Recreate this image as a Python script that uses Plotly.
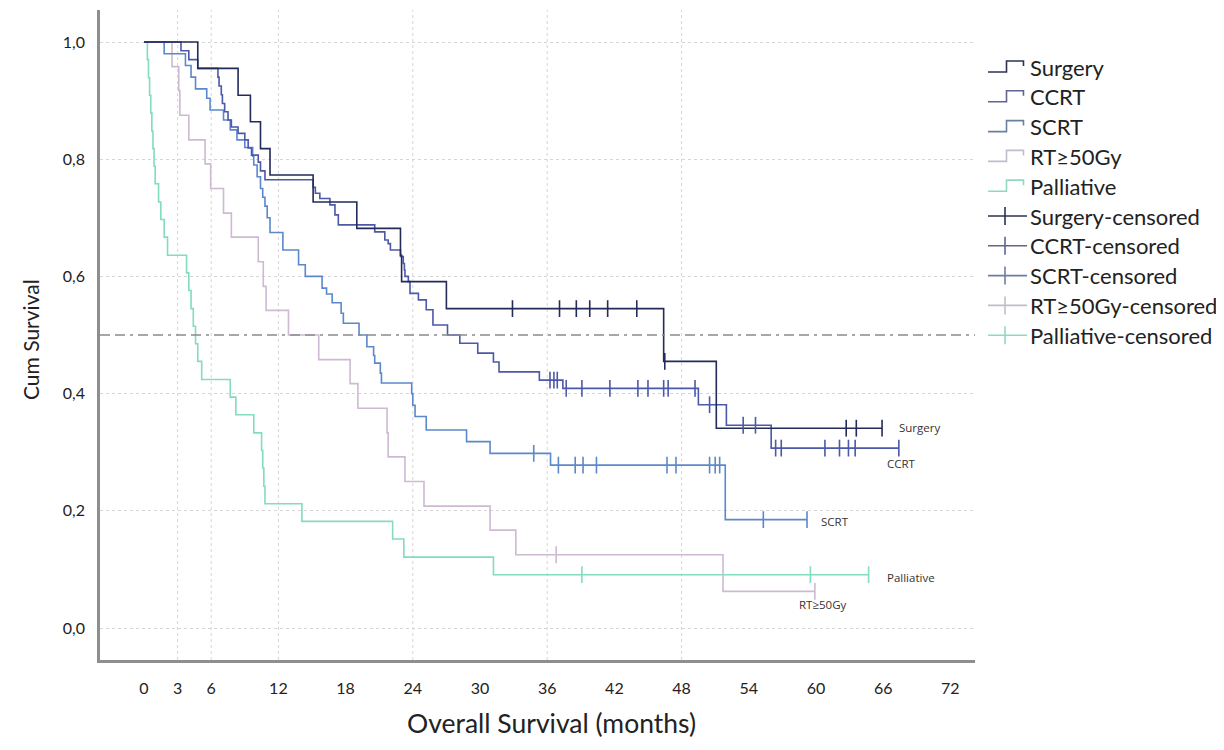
import plotly.graph_objects as go

# ---------------- data ----------------
x_ticks = [0, 3, 6, 12, 18, 24, 30, 36, 42, 48, 54, 60, 66, 72]
y_ticks = [0.0, 0.2, 0.4, 0.6, 0.8, 1.0]
y_ticktext = ["0,0", "0,2", "0,4", "0,6", "0,8", "1,0"]
x_gridlines = [3, 6, 12, 24, 36, 48]

groups = ["Surgery", "CCRT", "SCRT", "RT≥50Gy", "Palliative"]

surgery_t = [0, 4.8, 8.4, 9.5, 10.4, 11.25, 15.1, 19.0, 22.9, 23.0, 27.0, 46.4, 51.1, 65.9]
surgery_s = [1.0, 0.955, 0.909, 0.864, 0.818, 0.773, 0.727, 0.682, 0.636, 0.591, 0.545, 0.455, 0.341, 0.341]
surgery_ct = [32.9, 37.1, 38.6, 39.8, 41.4, 44.0, 46.5, 62.7, 63.6, 65.9]
surgery_cs = [0.545, 0.545, 0.545, 0.545, 0.545, 0.545, 0.455, 0.341, 0.341, 0.341]

ccrt_t = [0, 3.3, 4.0, 4.8, 6.6, 6.7, 6.9, 7.0, 7.2, 7.5, 7.8, 8.4, 9.0, 9.3, 9.6, 10.2, 10.4, 10.8,
          15.1, 15.3, 15.7, 16.6, 17.05, 17.35, 20.6, 21.5, 21.8, 22.0, 22.9, 23.15, 23.25, 23.3, 23.6,
          23.75, 24.5, 25.2, 25.8, 27.1, 28.2, 29.8, 31.2, 31.7, 35.3, 37.4, 49.5, 52.0, 56.0, 67.4]
ccrt_s = [1.0, 0.985, 0.97, 0.955, 0.94, 0.925, 0.91, 0.895, 0.881, 0.867, 0.855, 0.844, 0.833, 0.819, 0.807, 0.795, 0.78, 0.765,
          0.752, 0.742, 0.733, 0.722, 0.705, 0.688, 0.676, 0.662, 0.656, 0.645, 0.634, 0.622, 0.611, 0.600, 0.591,
          0.571, 0.560, 0.543, 0.517, 0.500, 0.486, 0.469, 0.454, 0.437, 0.423, 0.409, 0.381, 0.346, 0.307, 0.307]
ccrt_ct = [36.25, 36.6, 36.9, 37.7, 39.1, 41.6, 44.1, 45.0, 46.4, 46.8, 49.2, 50.5, 53.5, 54.6,
           56.4, 56.9, 60.8, 62.1, 62.9, 63.5, 67.4]
ccrt_cs = [0.423, 0.423, 0.423, 0.409, 0.409, 0.409, 0.409, 0.409, 0.409, 0.409, 0.409, 0.381, 0.346, 0.346,
           0.307, 0.307, 0.307, 0.307, 0.307, 0.307, 0.307]

scrt_t = [0, 1.8, 3.7, 4.2, 4.6, 5.6, 5.9, 7.1, 7.7, 8.3, 9.0, 9.7, 9.8, 10.1, 10.4, 10.6, 10.8, 11.0, 11.25,
          12.4, 13.8, 14.4, 15.9, 16.3, 16.8, 17.6, 17.8, 19.2, 19.9, 20.5, 20.6, 21.1, 21.2, 23.9, 24.0, 24.2,
          25.2, 28.8, 30.9, 36.3, 51.9, 59.2]
scrt_s = [1.0, 0.98, 0.96, 0.94, 0.92, 0.904, 0.884, 0.867, 0.85, 0.833, 0.82, 0.805, 0.79, 0.77, 0.75, 0.735, 0.72, 0.70, 0.675,
          0.645, 0.62, 0.60, 0.58, 0.57, 0.555, 0.537, 0.52, 0.50, 0.48, 0.465, 0.452, 0.435, 0.418, 0.40, 0.38, 0.361,
          0.338, 0.318, 0.298, 0.278, 0.185, 0.185]
scrt_ct = [34.8, 37.0, 38.5, 39.2, 40.4, 46.7, 47.5, 50.5, 51.0, 51.4, 55.3, 59.2]
scrt_cs = [0.298, 0.278, 0.278, 0.278, 0.278, 0.278, 0.278, 0.278, 0.278, 0.278, 0.185, 0.185]

rt_t = [0, 2.5, 3.1, 3.2, 4.0, 5.45, 5.95, 7.1, 7.8, 10.2, 10.65, 10.9, 12.9, 15.6, 18.4, 19.1, 21.7, 21.8,
        23.3, 25.0, 30.9, 33.2, 51.7, 59.9]
rt_s = [1.0, 0.958, 0.917, 0.875, 0.833, 0.792, 0.75, 0.708, 0.667, 0.625, 0.583, 0.542, 0.5, 0.458, 0.417, 0.375, 0.333, 0.292,
        0.25, 0.208, 0.167, 0.125, 0.0625, 0.0625]
rt_ct = [36.8, 59.9]
rt_cs = [0.125, 0.0625]

pall_t = [0, 0.3, 0.4, 0.5, 0.6, 0.7, 0.8, 0.9, 1.0, 1.3, 1.5, 1.8, 2.1, 3.8, 4.0, 4.2, 4.4, 4.6, 4.8, 5.15,
          7.7, 8.2, 9.8, 10.5, 10.6, 10.7, 10.8, 14.1, 22.2, 23.2, 31.2, 64.7]
pall_s = [1.0, 0.970, 0.939, 0.909, 0.879, 0.848, 0.818, 0.788, 0.758, 0.727, 0.697, 0.667, 0.636, 0.606, 0.576, 0.545,
          0.515, 0.485, 0.455, 0.424, 0.394, 0.364, 0.333, 0.303, 0.273, 0.242, 0.212, 0.182, 0.152, 0.121, 0.091, 0.091]
pall_ct = [39.1, 59.5, 64.7]
pall_cs = [0.091, 0.091, 0.091]

# end-of-curve labels (position in data units)
end_label_x = [67.2, 66.2, 60.3, 58.3, 66.2]
end_label_y = [0.343, 0.28, 0.181, 0.04, 0.087]

x_title = "Overall Survival (months)"
y_title = "Cum Survival"

# ---------------- styles ----------------
colors = {
    "Surgery": "#232b58",
    "CCRT": "#4c58a8",
    "SCRT": "#5b88cc",
    "RT≥50Gy": "#cdb9d2",
    "Palliative": "#82dcc0",
}
legend_colors = {
    "Surgery": "#2d3252",
    "CCRT": "#5f6590",
    "SCRT": "#6b809e",
    "RT≥50Gy": "#c3bccc",
    "Palliative": "#8fd9c4",
}
FONT = "Lato"

series = {
    "Surgery": (surgery_t, surgery_s, surgery_ct, surgery_cs),
    "CCRT": (ccrt_t, ccrt_s, ccrt_ct, ccrt_cs),
    "SCRT": (scrt_t, scrt_s, scrt_ct, scrt_cs),
    "RT≥50Gy": (rt_t, rt_s, rt_ct, rt_cs),
    "Palliative": (pall_t, pall_s, pall_ct, pall_cs),
}

W, H = 1224, 750
OFF = 8  # page body margin offset
ML, MR, MT, MB = 92, 257, 2, 98
PW, PH = W - ML - MR, H - MT - MB

def pxx(x):
    # screenshot pixel x -> paper fraction
    return (x - OFF - ML) / PW

def pxy(y):
    # screenshot pixel y -> paper fraction
    return (H - MB - (y - OFF)) / PH

fig = go.Figure()

draw_order = ["Palliative", "RT≥50Gy", "SCRT", "CCRT", "Surgery"]
for g in draw_order:
    t, s, ct, cs = series[g]
    fig.add_trace(go.Scatter(x=t, y=s, mode="lines", line=dict(color=colors[g], width=1.6, shape="hv"),
                             name=g, showlegend=False, hoverinfo="skip"))
for g in draw_order:
    t, s, ct, cs = series[g]
    fig.add_trace(go.Scatter(x=ct, y=cs, mode="markers",
                             marker=dict(symbol="line-ns", size=12, line=dict(color=colors[g], width=1.6)),
                             name=g + "-censored", showlegend=False, hoverinfo="skip"))

# vertical dotted grid lines at selected months
for xv in x_gridlines:
    fig.add_vline(x=xv, line=dict(color="#d6d6d6", width=1, dash="dot"), layer="below")

# median reference line
fig.add_hline(y=0.5, line=dict(color="#8a8a8a", width=1.6, dash="10px,5px,10px,5px,3px,5px"))

# end labels
for g, lx, ly in zip(groups, end_label_x, end_label_y):
    fig.add_annotation(x=lx, y=ly, xref="x", yref="y", text=g, showarrow=False, xanchor="left",
                       yanchor="middle", font=dict(family="Open Sans", size=11.5, color="#333333"))

# axis titles
fig.add_annotation(x=pxx(551), y=pxy(723), xref="paper", yref="paper", text=x_title, showarrow=False,
                   xanchor="center", yanchor="middle", font=dict(family=FONT, size=26.5, color="#222222"))
fig.add_annotation(x=pxx(30), y=pxy(340), xref="paper", yref="paper", text=y_title, showarrow=False,
                   textangle=-90, xanchor="center", yanchor="middle",
                   font=dict(family=FONT, size=21, color="#222222"))

# manual legend
leg_y0, leg_step = 67, 29.8
for i, g in enumerate(groups):
    yc = leg_y0 + i * leg_step
    path = "M {:.4f},{:.4f} L {:.4f},{:.4f} L {:.4f},{:.4f} L {:.4f},{:.4f} L {:.4f},{:.4f}".format(
        pxx(988), pxy(yc + 5), pxx(1006.5), pxy(yc + 5), pxx(1006.5), pxy(yc - 6),
        pxx(1023.5), pxy(yc - 6), pxx(1023.5), pxy(yc - 1))
    fig.add_shape(type="path", path=path, xref="paper", yref="paper",
                  line=dict(color=legend_colors[g], width=1.6))
    fig.add_annotation(x=pxx(1028), y=pxy(yc), xref="paper", yref="paper", text=g, showarrow=False,
                       xanchor="left", yanchor="middle", font=dict(family=FONT, size=22, color="#222222"))
for i, g in enumerate(groups):
    yc = leg_y0 + (i + 5) * leg_step
    fig.add_shape(type="line", x0=pxx(988), x1=pxx(1027), y0=pxy(yc), y1=pxy(yc), xref="paper", yref="paper",
                  line=dict(color=legend_colors[g], width=1.6))
    fig.add_shape(type="line", x0=pxx(1005), x1=pxx(1005), y0=pxy(yc - 9), y1=pxy(yc + 9), xref="paper",
                  yref="paper", line=dict(color=legend_colors[g], width=1.6))
    fig.add_annotation(x=pxx(1028), y=pxy(yc), xref="paper", yref="paper", text=g + "-censored",
                       showarrow=False, xanchor="left", yanchor="middle",
                       font=dict(family=FONT, size=22, color="#222222"))

fig.update_layout(
    width=W, height=H,
    margin=dict(l=ML, r=MR, t=MT, b=MB, autoexpand=False),
    plot_bgcolor="white", paper_bgcolor="white",
    showlegend=False,
    font=dict(family=FONT, color="#222222"),
    xaxis=dict(
        range=[-3.93, 74.2], tickvals=x_ticks, ticktext=[str(v) for v in x_ticks],
        showgrid=False, zeroline=False, showline=True, linecolor="#8e8e8e", linewidth=2.5,
        ticks="outside", ticklen=12, tickcolor="rgba(0,0,0,0)", automargin=False,
        tickfont=dict(family=FONT, size=16, color="#222222"),
    ),
    yaxis=dict(
        range=[-0.0546, 1.0546], tickvals=y_ticks, ticktext=y_ticktext,
        showgrid=True, gridcolor="#d6d6d6", griddash="dot", gridwidth=1, zeroline=False,
        showline=True, linecolor="#8e8e8e", linewidth=2.5, automargin=False,
        ticks="outside", ticklen=9, tickcolor="rgba(0,0,0,0)",
        tickfont=dict(family=FONT, size=16, color="#222222"),
    ),
)

fig.write_html("out.html")
